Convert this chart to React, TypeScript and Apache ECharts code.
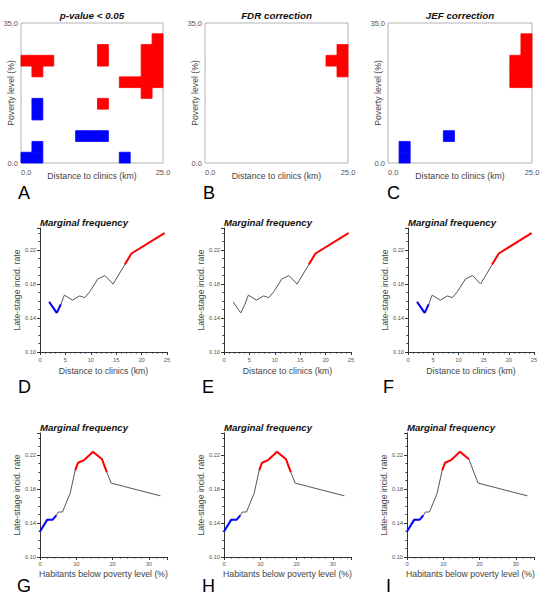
import React, { useEffect, useRef } from "react";
import * as echarts from "echarts";

// ---- Heatmap panels (13 x 13 grid; [column, row-from-bottom]) ----
const GRID_N = 13;
const distMax = 25;
const povMax = 35;

const cellsA_red = [
  [0, 9], [1, 9], [2, 9], [1, 8], [7, 10], [7, 9], [7, 5],
  [12, 11], [12, 10], [12, 9], [12, 8], [12, 7],
  [11, 10], [11, 9], [11, 8], [11, 7], [11, 6], [9, 7], [10, 7],
];
const cellsA_blue = [[1, 5], [1, 4], [5, 2], [6, 2], [7, 2], [1, 1], [1, 0], [0, 0], [9, 0]];
const cellsB_red = [[12, 10], [12, 9], [12, 8], [11, 9]];
const cellsB_blue: number[][] = [];
const cellsC_red = [[12, 11], [12, 10], [12, 9], [12, 8], [12, 7], [11, 9], [11, 8], [11, 7]];
const cellsC_blue = [[1, 1], [1, 0], [5, 2]];

const heatTitles = ["p-value < 0.05", "FDR correction", "JEF correction"];

// ---- Marginal frequency: distance to clinics ----
const distX = [1.8, 3.3, 4.1, 4.8, 6.4, 7.8, 8.8, 9.8, 11.4, 12.8, 14.4, 16.7, 18.0, 24.5];
const distY = [0.159, 0.146, 0.156, 0.167, 0.161, 0.166, 0.164, 0.171, 0.186, 0.19, 0.18, 0.203, 0.216, 0.24];
// index ranges [from, to] of highlighted segments per panel (D, E, F)
const distBlue = [[0, 2], null, [0, 2]];
const distRed = [[11, 13], [11, 13], [11, 13]];

// ---- Marginal frequency: habitants below poverty level ----
const povX = [0, 2.0, 3.5, 4.5, 5.1, 6.2, 8.3, 9.7, 10.5, 12.1, 14.6, 17.1, 18.4, 19.6, 33.2];
const povY = [0.13, 0.144, 0.144, 0.149, 0.153, 0.153, 0.175, 0.202, 0.211, 0.214, 0.224, 0.215, 0.2, 0.187, 0.172];
// panels G, H, I
const povBlue = [[0, 3], [0, 3], [0, 3]];
const povRed = [[7, 12], [7, 12], [7, 11]];

const rateTicks = { min: 0.1, max: 0.246, interval: 0.04 };

const letters = ["A", "B", "C", "D", "E", "F", "G", "H", "I"];

const FONT = "'Liberation Sans', Arial, Helvetica, sans-serif";
const RED = "#ff0000";
const BLUE = "#0000ff";
const GRAY = "#555555";

export default function App() {
  const ref = useRef<HTMLDivElement>(null);

  useEffect(() => {
    const chart = echarts.init(ref.current as HTMLDivElement, null, { renderer: "svg" });

    const heatGrids = [
      { left: 21, top: 23, width: 142, height: 140 },
      { left: 205, top: 23, width: 143, height: 140 },
      { left: 388, top: 23, width: 144, height: 140 },
    ];
    const midGrids = [
      { left: 40, top: 228, width: 127, height: 124 },
      { left: 224, top: 228, width: 127, height: 124 },
      { left: 408, top: 228, width: 126, height: 124 },
    ];
    const botGrids = [
      { left: 40, top: 433, width: 127, height: 124 },
      { left: 224, top: 433, width: 127, height: 124 },
      { left: 407, top: 433, width: 127, height: 124 },
    ];

    const grids: any[] = [];
    const xAxes: any[] = [];
    const yAxes: any[] = [];
    const series: any[] = [];
    const graphics: any[] = [];

    const heatCells = [
      [cellsA_red, cellsA_blue],
      [cellsB_red, cellsB_blue],
      [cellsC_red, cellsC_blue],
    ];

    heatGrids.forEach((g, i) => {
      grids.push({ ...g, show: true, borderColor: "#b4b4b4", borderWidth: 1, backgroundColor: "#fff" });
      xAxes.push({
        gridIndex: i,
        type: "value",
        min: 0,
        max: distMax,
        interval: distMax,
        axisLine: { show: false },
        axisTick: { show: false },
        splitLine: { show: false },
        axisLabel: {
          fontSize: 7.5,
          color: "#555",
          fontFamily: FONT,
          margin: 5,
          alignMinLabel: "left",
          formatter: (v: number) => v.toFixed(1),
        },
        name: "Distance to clinics (km)",
        nameLocation: "middle",
        nameGap: 8,
        nameMoveOverlap: false,
        nameTextStyle: { fontSize: 8.7, color: "#444", fontFamily: FONT },
      });
      yAxes.push({
        gridIndex: i,
        type: "value",
        min: 0,
        max: povMax,
        interval: povMax,
        axisLine: { show: false },
        axisTick: { show: false },
        splitLine: { show: false },
        axisLabel: {
          fontSize: 7.5,
          color: "#555",
          fontFamily: FONT,
          margin: 3,
          formatter: (v: number) => v.toFixed(1),
        },
        name: "Poverty level (%)",
        nameLocation: "middle",
        nameGap: 6,
        nameMoveOverlap: false,
        nameTextStyle: { fontSize: 8.7, color: "#444", fontFamily: FONT },
      });
      const [red, blue] = heatCells[i];
      const data = [
        ...red.map((c) => [c[0], c[1], 1]),
        ...blue.map((c) => [c[0], c[1], -1]),
      ];
      series.push({
        type: "custom",
        xAxisIndex: i,
        yAxisIndex: i,
        silent: true,
        data,
        renderItem: (_p: any, api: any) => {
          const c = api.value(0);
          const r = api.value(1);
          const s = api.value(2);
          const w = distMax / GRID_N;
          const h = povMax / GRID_N;
          const p0 = api.coord([c * w, (r + 1) * h]);
          const p1 = api.coord([(c + 1) * w, r * h]);
          const col = s > 0 ? RED : BLUE;
          return {
            type: "rect",
            shape: { x: p0[0], y: p0[1], width: p1[0] - p0[0], height: p1[1] - p0[1] },
            style: { fill: col, stroke: col, lineWidth: 0.8 },
          };
        },
      });
      graphics.push({
        type: "text",
        x: g.left + g.width / 2,
        y: 15,
        style: {
          text: heatTitles[i],
          fontSize: 9.8,
          fontWeight: "bold",
          fontStyle: "italic",
          fontFamily: FONT,
          fill: "#111",
          align: "center",
          verticalAlign: "middle",
        },
      });
    });

    const addLinePanel = (
      g: any,
      idx: number,
      xs: number[],
      ys: number[],
      xMax: number,
      xInterval: number,
      xName: string,
      xNameGap: number,
      xLabelMargin: number,
      blue: number[] | null,
      red: number[] | null
    ) => {
      grids.push({ ...g });
      const axisStyle = { lineStyle: { color: "#333", width: 1 } };
      xAxes.push({
        gridIndex: idx,
        type: "value",
        min: 0,
        max: xMax,
        interval: xInterval,
        axisLine: { show: true, ...axisStyle },
        axisTick: { show: true, length: 3, ...axisStyle },
        minorTick: { show: true, splitNumber: 5, length: 1.5, lineStyle: { color: "#333" } },
        splitLine: { show: false },
        axisLabel: {
          fontSize: 5.7,
          color: "#555",
          fontFamily: FONT,
          margin: xLabelMargin,
          showMaxLabel: xMax % xInterval === 0,
        },
        name: xName,
        nameLocation: "middle",
        nameGap: xNameGap,
        nameTextStyle: { fontSize: 8.7, color: "#444", fontFamily: FONT },
      });
      yAxes.push({
        gridIndex: idx,
        type: "value",
        min: rateTicks.min,
        max: rateTicks.max,
        interval: rateTicks.interval,
        axisLine: { show: true, ...axisStyle },
        axisTick: { show: true, length: 3, ...axisStyle },
        minorTick: { show: true, splitNumber: 4, length: 1.5, lineStyle: { color: "#333" } },
        splitLine: { show: false },
        axisLabel: {
          fontSize: 5.7,
          color: "#555",
          fontFamily: FONT,
          margin: 4,
          showMaxLabel: false,
          formatter: (v: number) => v.toFixed(2),
        },
        name: "Late-stage incid. rate",
        nameLocation: "middle",
        nameGap: 17,
        nameTextStyle: { fontSize: 8.7, color: "#444", fontFamily: FONT },
      });
      const pts = xs.map((x, i) => [x, ys[i]]);
      series.push({
        type: "line",
        xAxisIndex: idx,
        yAxisIndex: idx,
        data: pts,
        symbol: "none",
        silent: true,
        lineStyle: { color: GRAY, width: 1 },
        z: 2,
      });
      if (blue) {
        series.push({
          type: "line",
          xAxisIndex: idx,
          yAxisIndex: idx,
          data: pts.slice(blue[0], blue[1] + 1),
          symbol: "none",
          silent: true,
          lineStyle: { color: BLUE, width: 2 },
          z: 3,
        });
      }
      if (red) {
        series.push({
          type: "line",
          xAxisIndex: idx,
          yAxisIndex: idx,
          data: pts.slice(red[0], red[1] + 1),
          symbol: "none",
          silent: true,
          lineStyle: { color: RED, width: 2 },
          z: 3,
        });
      }
      graphics.push({
        type: "text",
        x: g.left,
        y: g.top - 6,
        style: {
          text: "Marginal frequency",
          fontSize: 9.6,
          fontWeight: "bold",
          fontStyle: "italic",
          fontFamily: FONT,
          fill: "#111",
          align: "left",
          verticalAlign: "middle",
        },
      });
    };

    midGrids.forEach((g, i) => {
      addLinePanel(g, 3 + i, distX, distY, distMax, 5, "Distance to clinics (km)", 14, 5, distBlue[i], distRed[i]);
    });
    botGrids.forEach((g, i) => {
      addLinePanel(g, 6 + i, povX, povY, povMax, 10, "Habitants below poverty level (%)", 12, 4, povBlue[i], povRed[i]);
    });

    const letterPos = [
      [18, 193], [203, 193], [387, 193],
      [18, 387], [202, 387], [383, 387],
      [17, 586], [202, 586], [386, 586],
    ];
    letters.forEach((t, i) => {
      graphics.push({
        type: "text",
        x: letterPos[i][0],
        y: letterPos[i][1],
        style: {
          text: t,
          fontSize: 18,
          fontFamily: FONT,
          fill: "#000",
          align: "left",
          verticalAlign: "middle",
        },
      });
    });

    chart.setOption({
      animation: false,
      backgroundColor: "#fff",
      grid: grids,
      xAxis: xAxes,
      yAxis: yAxes,
      series,
      graphic: graphics,
    });

    return () => chart.dispose();
  }, []);

  return (
    <div
      ref={ref}
      style={{ position: "absolute", left: 0, top: 0, width: 553, height: 600 }}
    />
  );
}
